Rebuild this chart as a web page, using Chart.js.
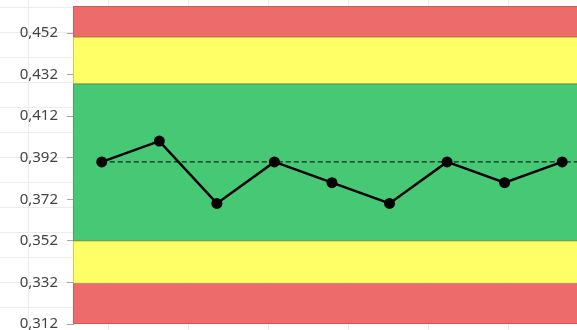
<!DOCTYPE html>
<html>
<head>
<meta charset="utf-8">
<script src="https://cdn.jsdelivr.net/npm/chart.js@4.4.1/dist/chart.umd.min.js"></script>
<style>
  html, body { margin: 0; padding: 0; background: #fff; overflow: hidden; }
  #wrap {
    position: relative; width: 577px; height: 330px; overflow: hidden;
    background-image:
      linear-gradient(to right, #ececec 1px, transparent 1px),
      linear-gradient(to bottom, #ececec 1px, transparent 1px);
    background-size: 80px 25px;
    background-position: 28px 7px;
  }
  #box { position: absolute; left: 0; top: 0; width: 654px; height: 340px; }
</style>
</head>
<body>
<div id="wrap"><div id="box"><canvas id="chart"></canvas></div></div>
<script>
  // samples (the chart keeps going past the right edge, last slot has no point yet)
  var labels = ['1', '2', '3', '4', '5', '6', '7', '8', '9', '10'];
  var values = [0.39, 0.40, 0.37, 0.39, 0.38, 0.37, 0.39, 0.38, 0.39, null];
  var meanValue = 0.39;

  // band edges from bottom to top, and the colours between them
  var bandEdges = [0.312, 0.3315, 0.352, 0.4275, 0.450, 0.465];
  var bandFill = ['#ed6b6b', '#ffff66', '#47c875', '#ffff66', '#ed6b6b'];
  var bandLine = ['#c85252', '#b8b83c', '#3a9a5a', '#b8b83c', '#c85252'];

  var yTicks = [0.312, 0.332, 0.352, 0.372, 0.392, 0.412, 0.432, 0.452];

  var datasets = [];
  for (var i = 0; i < bandFill.length; i++) {
    datasets.push({
      type: 'bar',
      xAxisID: 'x2',
      data: [[bandEdges[i], bandEdges[i + 1]]],
      backgroundColor: bandFill[i],
      borderColor: bandLine[i],
      borderWidth: 1,
      borderSkipped: false,
      grouped: false,
      barPercentage: 1,
      categoryPercentage: 1,
      order: 3
    });
  }

  datasets.push({
    type: 'line',
    xAxisID: 'x',
    data: labels.map(function () { return meanValue; }),
    borderColor: '#000',
    borderWidth: 1,
    borderDash: [5, 3],
    pointRadius: 0,
    fill: false,
    order: 2
  });

  datasets.push({
    type: 'line',
    xAxisID: 'x',
    data: values,
    borderColor: '#000',
    backgroundColor: '#000',
    borderWidth: 2.5,
    pointRadius: 5.5,
    pointBackgroundColor: '#000',
    pointBorderWidth: 0,
    tension: 0,
    fill: false,
    order: 1
  });

  new Chart(document.getElementById('chart').getContext('2d'), {
    type: 'bar',
    data: { labels: labels, datasets: datasets },
    options: {
      responsive: true,
      maintainAspectRatio: false,
      animation: false,
      layout: { padding: { top: 6, bottom: 16, left: 0, right: 0 } },
      plugins: { legend: { display: false }, tooltip: { enabled: false } },
      scales: {
        x: { type: 'category', offset: true, display: false },
        x2: { type: 'category', labels: [''], offset: true, display: false },
        y: {
          min: bandEdges[0],
          max: bandEdges[bandEdges.length - 1],
          afterBuildTicks: function (scale) {
            scale.ticks = yTicks.map(function (v) { return { value: v }; });
          },
          afterFit: function (scale) {
            scale.width = 73;
            scale.paddingTop = 0;
            scale.paddingBottom = 0;
          },
          border: { color: '#a6a6a6', width: 1 },
          grid: { drawOnChartArea: false, tickLength: 6, color: '#a6a6a6' },
          ticks: {
            padding: 9,
            color: '#444',
            font: { family: 'Noto Sans', size: 15 },
            callback: function (v) { return v.toFixed(3).replace('.', ','); }
          }
        }
      }
    }
  });
</script>
</body>
</html>
